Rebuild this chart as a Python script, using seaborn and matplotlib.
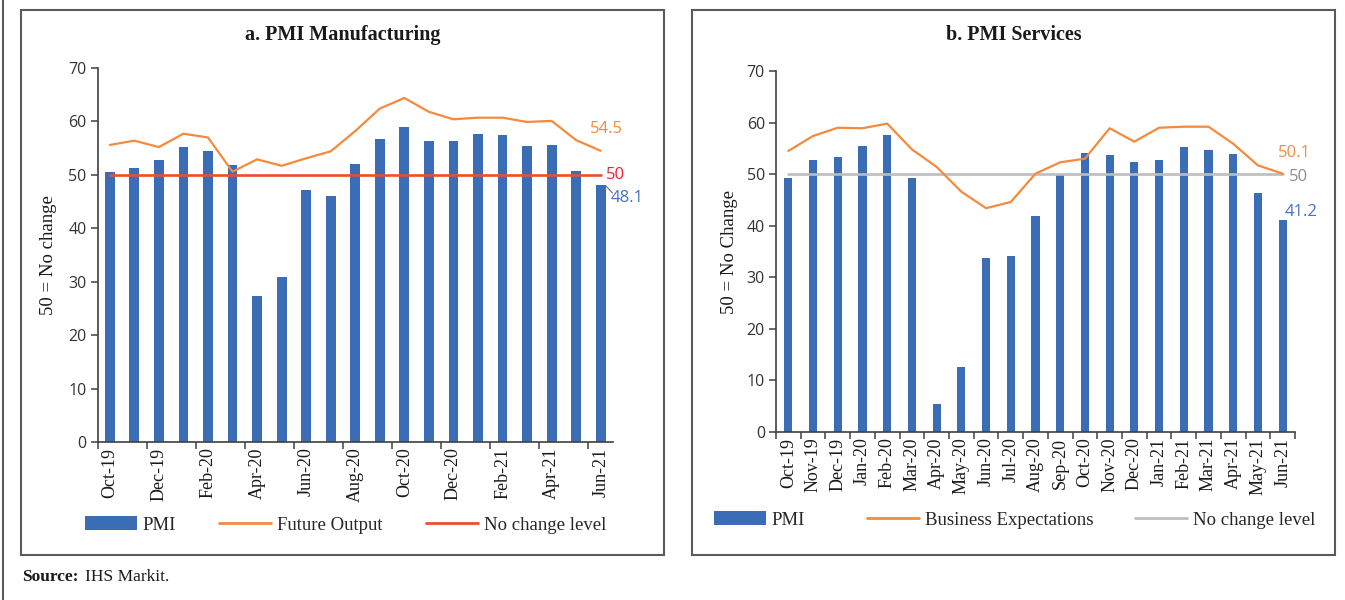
import numpy as np
import pandas as pd
import matplotlib
matplotlib.use("Agg")
import matplotlib.pyplot as plt
from matplotlib.patches import Rectangle, Patch
from matplotlib.lines import Line2D
import seaborn as sns

# ---------------- data ----------------
months = ["Oct-19", "Nov-19", "Dec-19", "Jan-20", "Feb-20", "Mar-20", "Apr-20",
          "May-20", "Jun-20", "Jul-20", "Aug-20", "Sep-20", "Oct-20", "Nov-20",
          "Dec-20", "Jan-21", "Feb-21", "Mar-21", "Apr-21", "May-21", "Jun-21"]
mfg_pmi = [50.6, 51.2, 52.7, 55.3, 54.5, 51.8, 27.4, 30.8, 47.2, 46.0, 52.0,
           56.8, 58.9, 56.3, 56.4, 57.7, 57.5, 55.4, 55.5, 50.8, 48.1]
future_output = [55.6, 56.4, 55.2, 57.7, 57.0, 50.6, 52.9, 51.7, 53.1, 54.4, 58.2,
                 62.4, 64.4, 61.8, 60.4, 60.7, 60.7, 59.9, 60.1, 56.5, 54.5]
srv_pmi = [49.2, 52.7, 53.3, 55.5, 57.5, 49.3, 5.4, 12.6, 33.7, 34.2, 41.8,
           49.8, 54.1, 53.7, 52.3, 52.8, 55.3, 54.6, 54.0, 46.4, 41.2]
business_exp = [54.5, 57.4, 59.0, 58.9, 59.8, 54.8, 51.4, 46.6, 43.4, 44.6, 50.1,
                52.3, 53.0, 58.9, 56.3, 59.0, 59.2, 59.2, 55.9, 51.7, 50.1]
no_change = [50] * len(months)
yticks = [0, 10, 20, 30, 40, 50, 60, 70]

# ---------------- style ----------------
sns.set_theme(style="white")
SERIF = ["Liberation Serif", "DejaVu Serif"]
SANS = ["Open Sans", "DejaVu Sans"]
plt.rcParams["font.family"] = SERIF

BLUE = "#3A6DB5"
ORANGE = "#F58A3D"
RED = "#E8502F"
GRAY = "#BDBDBD"
SPINE = "#404040"
LEG_SIZE = 13.5

W, H = 1345, 600
fig = plt.figure(figsize=(W / 100, H / 100), dpi=100)


def fx(px):
    return px / W


def fy(py):
    return 1 - py / H


# panel frames and outer line
for x0, x1 in [(21, 664), (692, 1335)]:
    fig.patches.append(Rectangle((fx(x0), fy(555)), fx(x1 - x0), (555 - 10) / H,
                                 transform=fig.transFigure, fill=False,
                                 edgecolor="#5a5a5a", linewidth=1.5))
fig.add_artist(Line2D([fx(3), fx(3)], [0, 1], transform=fig.transFigure,
                      color="#5a5a5a", linewidth=1.5))

df = pd.DataFrame({"month": months, "mfg": mfg_pmi, "fut": future_output,
                   "srv": srv_pmi, "bus": business_exp, "nc": no_change})
xi = np.arange(len(months))


def style_axis(ax, labels_every, tick_positions):
    ax.set_xlim(-0.5, len(months) - 0.5)
    ax.set_ylim(0, 70)
    ax.set_yticks(yticks)
    ax.set_yticklabels([str(v) for v in yticks], family=SANS, fontsize=11.5,
                       color="#333333")
    ax.set_xticks(xi[::labels_every])
    ax.set_xticklabels(months[::labels_every], rotation=90, family=SERIF,
                       fontsize=13, color="#1a1a1a")
    ax.set_xticks(tick_positions, minor=True)
    ax.tick_params(axis="x", which="major", length=0, pad=4)
    ax.tick_params(axis="x", which="minor", length=5, width=1.1,
                   color=SPINE, direction="out", bottom=True)
    ax.tick_params(axis="y", which="major", length=5, width=1.1,
                   color=SPINE, direction="out", left=True, pad=3)
    for s in ["top", "right"]:
        ax.spines[s].set_visible(False)
    for s in ["left", "bottom"]:
        ax.spines[s].set_color(SPINE)
        ax.spines[s].set_linewidth(1.2)
    ax.set_xlabel("")
    ax.grid(False)
    ax.set_facecolor("none")


# ---------------- panel a ----------------
ax1 = fig.add_axes([fx(97.5), fy(442), fx(613 - 97.5), (442 - 68) / H])
sns.barplot(data=df, x="month", y="mfg", color=BLUE, width=0.4, ax=ax1,
            saturation=1, edgecolor="none")
sns.lineplot(x=xi, y=df["nc"], color=RED, linewidth=1.9, ax=ax1)
sns.lineplot(x=xi, y=df["fut"], color=ORANGE, linewidth=1.6, ax=ax1)
style_axis(ax1, 2, np.arange(-0.5, 20, 2.0))
ax1.set_ylabel("50 = No change", family=SERIF, fontsize=13.5, color="#1a1a1a",
               labelpad=8)
ax1.text(19.55, 58.5, "54.5", color=ORANGE, family=SANS, fontsize=12,
         va="center", ha="left", clip_on=False)
ax1.text(20.2, 50.0, "50", color="#E5262E", family=SANS, fontsize=12,
         va="center", ha="left", clip_on=False)
ax1.plot([20.22, 20.48], [47.9, 46.6], color="#6f6f6f", linewidth=0.8,
         clip_on=False)
ax1.text(20.42, 45.6, "48.1", color="#4472C4", family=SANS, fontsize=12,
         va="center", ha="left", clip_on=False)

fig.text(fx(342.5), fy(35), "a. PMI Manufacturing", family=SERIF,
         fontsize=14.5, fontweight="bold", ha="center", va="center",
         color="#1a1a1a")

h_pmi = Patch(facecolor=BLUE, edgecolor="none")
h_fut = Line2D([], [], color=ORANGE, linewidth=2)
h_red = Line2D([], [], color=RED, linewidth=2)
fig.legend([h_pmi, h_fut, h_red], ["PMI", "Future Output", "No change level"],
           loc="center left", bbox_to_anchor=(fx(85), fy(525)), ncol=3,
           frameon=False, borderpad=0, borderaxespad=0, handlelength=2.77,
           handletextpad=0.32, columnspacing=2.3,
           prop={"family": SERIF, "size": LEG_SIZE})

# ---------------- panel b ----------------
ax2 = fig.add_axes([fx(776), fy(432), fx(1295 - 776), (432 - 71) / H])
sns.barplot(data=df, x="month", y="srv", color=BLUE, width=0.33, ax=ax2,
            saturation=1, edgecolor="none")
sns.lineplot(x=xi, y=df["nc"], color=GRAY, linewidth=1.9, ax=ax2)
sns.lineplot(x=xi, y=df["bus"], color=ORANGE, linewidth=1.6, ax=ax2)
style_axis(ax2, 1, np.arange(-0.5, 21, 1.0))
ax2.set_ylabel("50 = No Change", family=SERIF, fontsize=13.5, color="#1a1a1a",
               labelpad=6)
ax2.text(19.8, 54.1, "50.1", color=ORANGE, family=SANS, fontsize=12,
         va="center", ha="left", clip_on=False)
ax2.text(20.25, 49.5, "50", color="#8c8c8c", family=SANS, fontsize=12,
         va="center", ha="left", clip_on=False)
ax2.text(20.07, 42.6, "41.2", color="#4472C4", family=SANS, fontsize=12,
         va="center", ha="left", clip_on=False)

fig.text(fx(1013.5), fy(35), "b. PMI Services", family=SERIF,
         fontsize=14.5, fontweight="bold", ha="center", va="center",
         color="#1a1a1a")

h_bus = Line2D([], [], color=ORANGE, linewidth=2)
h_gray = Line2D([], [], color=GRAY, linewidth=2)
fig.legend([h_pmi], ["PMI"], loc="center left",
           bbox_to_anchor=(fx(714), fy(520)), frameon=False, borderpad=0,
           borderaxespad=0, handlelength=2.77, handletextpad=0.32,
           prop={"family": SERIF, "size": LEG_SIZE})
fig.legend([h_bus, h_gray], ["Business Expectations", "No change level"],
           loc="center left", bbox_to_anchor=(fx(867), fy(520)), ncol=2,
           frameon=False, borderpad=0, borderaxespad=0, handlelength=2.77,
           handletextpad=0.32, columnspacing=2.2,
           prop={"family": SERIF, "size": LEG_SIZE})

# ---------------- source ----------------
fig.text(fx(22), fy(577), "Source:", family=SERIF, fontsize=12.5,
         fontweight="bold", ha="left", va="center", color="#1a1a1a")
fig.text(fx(85), fy(577), "IHS Markit.", family=SERIF, fontsize=12.5,
         ha="left", va="center", color="#1a1a1a")

fig.savefig("out.png", dpi=100, facecolor="white")
